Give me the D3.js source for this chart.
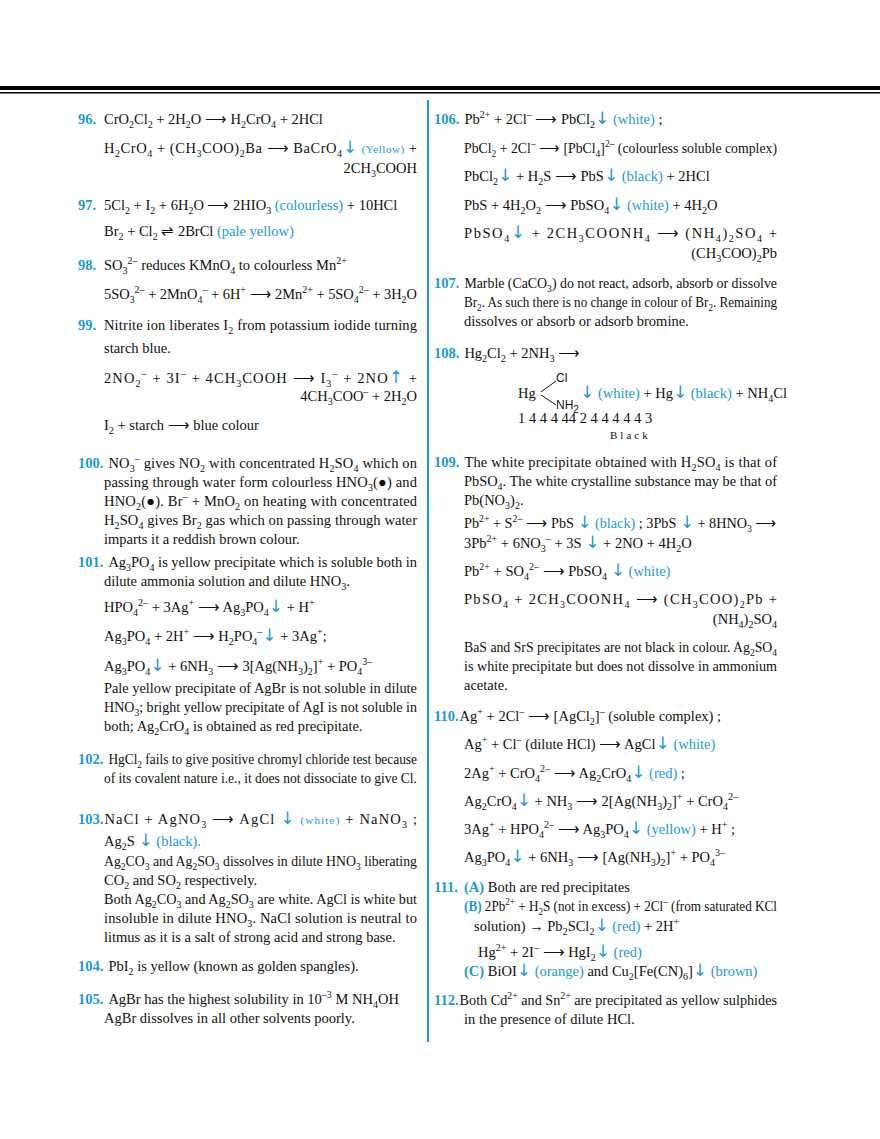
<!DOCTYPE html>
<html><head><meta charset="utf-8">
<script src="https://cdn.jsdelivr.net/npm/d3@7"></script>
<style>body{margin:0;background:#fff}</style>
</head><body>
<div id="page"></div>
<script>
// rows: baseline, question number, marked-up text, options
// markup: _{sub} ^{sup} {c|cyan} {s|small cyan} {b|bold cyan}
var leftRows = [
 [124,"96.","CrO_{2}Cl_{2} + 2H_{2}O ⟶ H_{2}CrO_{4} + 2HCl"],
 [153,"","H_{2}CrO_{4} + (CH_{3}COO)_{2}Ba ⟶ BaCrO_{4}{c|↓} {s|(Yellow)} +","j"],
 [173,"","2CH_{3}COOH","r"],
 [210,"97.","5Cl_{2} + I_{2} + 6H_{2}O ⟶ 2HIO_{3} {c|(colourless)} + 10HCl"],
 [236,"","Br_{2} + Cl_{2} ⇌ 2BrCl {c|(pale yellow)}"],
 [270,"98.","SO_{3}^{2–} reduces KMnO_{4} to colourless Mn^{2+}"],
 [299,"","5SO_{3}^{2–} + 2MnO_{4}^{–} + 6H^{+} ⟶ 2Mn^{2+} + 5SO_{4}^{2–} + 3H_{2}O"],
 [330,"99.","Nitrite ion liberates I_{2} from potassium iodide turning","j"],
 [353,"","starch blue."],
 [383,"","2NO_{2}^{–} + 3I^{–} + 4CH_{3}COOH ⟶ I_{3}^{–} + 2NO{c|↑} +","j"],
 [401,"","4CH_{3}COO^{–} + 2H_{2}O","r"],
 [430,"","I_{2} + starch ⟶ blue colour"],
 [468,"100.","NO_{3}^{–} gives NO_{2} with concentrated H_{2}SO_{4} which on","j"],
 [487,"","passing through water form colourless HNO_{3}(●) and","j"],
 [506,"","HNO_{2}(●). Br^{–} + MnO_{2} on heating with concentrated","j"],
 [525,"","H_{2}SO_{4} gives Br_{2} gas which on passing through water","j"],
 [544,"","imparts it a reddish brown colour."],
 [567,"101.","Ag_{3}PO_{4} is yellow precipitate which is soluble both in","j"],
 [586,"","dilute ammonia solution and dilute HNO_{3}."],
 [612,"","HPO_{4}^{2–} + 3Ag^{+} ⟶ Ag_{3}PO_{4}{c|↓} + H^{+}"],
 [641,"","Ag_{3}PO_{4} + 2H^{+} ⟶ H_{2}PO_{4}^{–}{c|↓} + 3Ag^{+};"],
 [671,"","Ag_{3}PO_{4}{c|↓} + 6NH_{3} ⟶ 3[Ag(NH_{3})_{2}]^{+} + PO_{4}^{3–}"],
 [693,"","Pale yellow precipitate of AgBr is not soluble in dilute","j"],
 [712,"","HNO_{3}; bright yellow precipitate of AgI is not soluble in","j"],
 [731,"","both; Ag_{2}CrO_{4} is obtained as red precipitate."],
 [764,"102.","HgCl_{2} fails to give positive chromyl chloride test because","j"],
 [783,"","of its covalent nature i.e., it does not dissociate to give Cl."],
 [824,"103.","NaCl + AgNO_{3} ⟶ AgCl {c|↓} {s|(white)} + NaNO_{3} ;","jt"],
 [846,"","Ag_{2}S {c|↓ (black).}"],
 [866,"","Ag_{2}CO_{3} and Ag_{2}SO_{3} dissolves in dilute HNO_{3} liberating","j"],
 [885,"","CO_{2} and SO_{2} respectively."],
 [904,"","Both Ag_{2}CO_{3} and Ag_{2}SO_{3} are white. AgCl is white but","j"],
 [923,"","insoluble in dilute HNO_{3}. NaCl solution is neutral to","j"],
 [942,"","litmus as it is a salt of strong acid and strong base."],
 [971,"104.","PbI_{2} is yellow (known as golden spangles)."],
 [1004,"105.","AgBr has the highest solubility in 10^{–3} M NH_{4}OH"],
 [1023,"","AgBr dissolves in all other solvents poorly."]
];
var rightRows = [
 [124,"106.","Pb^{2+} + 2Cl^{–} ⟶ PbCl_{2}{c|↓ (white)} ;"],
 [153,"","PbCl_{2} + 2Cl^{–} ⟶ [PbCl_{4}]^{2–} (colourless soluble complex)","j"],
 [181,"","PbCl_{2}{c|↓} + H_{2}S ⟶ PbS{c|↓ (black)} + 2HCl"],
 [210,"","PbS + 4H_{2}O_{2} ⟶ PbSO_{4}{c|↓ (white)} + 4H_{2}O"],
 [238,"","PbSO_{4}{c|↓}  +  2CH_{3}COONH_{4}  ⟶ (NH_{4})_{2}SO_{4}  +","j"],
 [258,"","(CH_{3}COO)_{2}Pb","r"],
 [288,"107.","Marble (CaCO_{3}) do not react, adsorb, absorb or dissolve","j"],
 [307,"","Br_{2}. As such there is no change in colour of Br_{2}. Remaining","j"],
 [326,"","dissolves or absorb or adsorb bromine."],
 [358,"108.","Hg_{2}Cl_{2} + 2NH_{3} ⟶"],
 [467,"109.","The white precipitate obtained with H_{2}SO_{4} is that of","j"],
 [486,"","PbSO_{4}. The white crystalline substance may be that of","j"],
 [505,"","Pb(NO_{3})_{2}."],
 [528,"","Pb^{2+} + S^{2–} ⟶ PbS {c|↓ (black)} ; 3PbS {c|↓} + 8HNO_{3} ⟶","j"],
 [548,"","3Pb^{2+} + 6NO_{3}^{–} + 3S {c|↓} + 2NO + 4H_{2}O"],
 [576,"","Pb^{2+} + SO_{4}^{2–} ⟶ PbSO_{4} {c|↓ (white)}"],
 [604,"","PbSO_{4}  +  2CH_{3}COONH_{4}  ⟶  (CH_{3}COO)_{2}Pb  +","j"],
 [624,"","(NH_{4})_{2}SO_{4}","r"],
 [652,"","BaS and SrS precipitates are not black in colour. Ag_{2}SO_{4}","j"],
 [671,"","is white precipitate but does not dissolve in ammonium","j"],
 [690,"","acetate."],
 [721,"110.","Ag^{+} + 2Cl^{–} ⟶ [AgCl_{2}]^{–} (soluble complex) ;","t"],
 [749,"","Ag^{+} + Cl^{–} (dilute HCl) ⟶ AgCl{c|↓ (white)}"],
 [778,"","2Ag^{+} + CrO_{4}^{2–} ⟶ Ag_{2}CrO_{4}{c|↓ (red)} ;"],
 [806,"","Ag_{2}CrO_{4}{c|↓} + NH_{3} ⟶ 2[Ag(NH_{3})_{2}]^{+} + CrO_{4}^{2–}"],
 [834,"","3Ag^{+} + HPO_{4}^{2–} ⟶ Ag_{3}PO_{4}{c|↓ (yellow)} + H^{+} ;"],
 [862,"","Ag_{3}PO_{4}{c|↓} + 6NH_{3} ⟶ [Ag(NH_{3})_{2}]^{+} + PO_{4}^{3–}"],
 [892,"111.","{b|(A)} Both are red precipitates"],
 [911,"","{b|(B)} 2Pb^{2+} + H_{2}S (not in excess) + 2Cl^{–} (from saturated KCl","j"],
 [931,"","solution) → Pb_{2}SCl_{2}{c|↓ (red)} + 2H^{+}","i"],
 [957,"","Hg^{2+} + 2I^{–} ⟶ HgI_{2}{c|↓ (red)}","i2"],
 [976,"","{b|(C)} BiOI{c|↓ (orange)} and Cu_{2}[Fe(CN)_{6}]{c|↓ (brown)}"],
 [1005,"112.","Both Cd^{2+} and Sn^{2+} are precipitated as yellow sulphides","jt"],
 [1024,"","in the presence of dilute HCl."]
];
// the structure drawn under question 108
var structRows = [
 [518,398,"Hg"],[556,382,"Cl"],[556,409,"NH_{2}"],
 [580,398,"{c|↓ (white)}  + Hg{c|↓ (black)} + NH_{4}Cl"],
 [518,423,"1   4   4   4   44  2   4   4   4   4   4  3"]
];

var cyan = "#1a9ad6", W = 880, H = 1139, FS = 14.5;
var cols = [{rows:leftRows, nx:78, tx:104, right:417}, {rows:rightRows, nx:434, tx:464, right:777}];

var svg = d3.select("#page").append("svg").attr("width",W).attr("height",H)
  .style("font-family","'Liberation Serif','Times New Roman',serif").style("font-size",FS+"px");

svg.append("rect").attr("width",W).attr("height",H).attr("fill","#fff");
svg.append("rect").attr("x",0).attr("y",86).attr("width",W).attr("height",4).attr("fill","#000");
svg.append("rect").attr("x",0).attr("y",92).attr("width",W).attr("height",1.5).attr("fill","#000");
svg.append("line").attr("x1",428).attr("x2",428).attr("y1",100).attr("y2",1042)
  .attr("stroke",cyan).attr("stroke-width",2);

function rich(text, str) {
  var parts = str.split(/(_\{[^}]*\}|\^\{[^}]*\}|\{[csb]\|[^}]*\})/).filter(function(p){return p.length})
  var cur = 0
  parts.forEach(function(p) {
    var off = 0, s = p, size = null, fill = null, bold = false
    if (p[0]=="_") { off = 4; s = p.slice(2,-1); size = 10 }
    else if (p[0]=="^" ) { off = -6; s = p.slice(2,-1); size = 10 }
    else if (p[0]=="{") {
      var k = p[1]; s = p.slice(3,-1); fill = cyan
      if (k=="s") size = 11
      if (k=="b") bold = true
    }
    s = s.replace(/ ?⟶ ?/g,"  ⟶  ")
    s.split(/([↓↑])/).filter(function(q){return q.length}).forEach(function(q, i) {
      var t = text.append("tspan").text(q)
      if (i==0) t.attr("dy", off-cur)
      if (fill) t.attr("fill", fill)
      if (bold) t.style("font-weight","bold")
      if (q=="↓" || q=="↑") t.style("font-size","17px").style("font-family","'DejaVu Sans'")
      else if (size) t.style("font-size", size+"px")
    })
    cur = off
  })
}

cols.forEach(function(c) {
  c.rows.forEach(function(r) {
    var opt = r[3] || "", x = c.tx
    if (r[1]) {
      var n = svg.append("text").attr("x",c.nx).attr("y",r[0]).attr("fill",cyan)
        .style("font-weight","bold").text(r[1])
      var nw = n.node().getComputedTextLength()
      if (opt.indexOf("t")>=0) x = c.nx + nw + 1
      else x = Math.max(x, c.nx + nw + 5)
    }
    if (opt=="i") x += 10
    if (opt=="i2") x += 14
    var t = svg.append("text").attr("x",x).attr("y",r[0]).attr("fill","#111")
    if (opt=="r") t.attr("x",c.right).attr("text-anchor","end")
    rich(t, r[2])
    var w = t.node().getComputedTextLength(), avail = c.right - x
    if (opt.indexOf("j")>=0 || w > avail) t.attr("textLength",avail).attr("lengthAdjust", w > avail ? "spacingAndGlyphs" : "spacing")
  })
})

structRows.forEach(function(r) {
  var t = svg.append("text").attr("x",r[0]).attr("y",r[1]).attr("fill","#111")
  if (r[2]=="Cl" || r[2]=="NH_{2}") t.style("font-family","'Liberation Sans',Arial,sans-serif").style("font-size","12px")
  rich(t, r[2])
})
svg.append("line").attr("x1",541).attr("y1",392).attr("x2",556).attr("y2",381).attr("stroke","#111")
svg.append("line").attr("x1",541).attr("y1",395).attr("x2",556).attr("y2",405).attr("stroke","#111")
svg.append("text").attr("x",610).attr("y",439).attr("fill","#111").style("font-size","11px")
  .style("letter-spacing","3px").text("Black")
</script>
</body></html>
